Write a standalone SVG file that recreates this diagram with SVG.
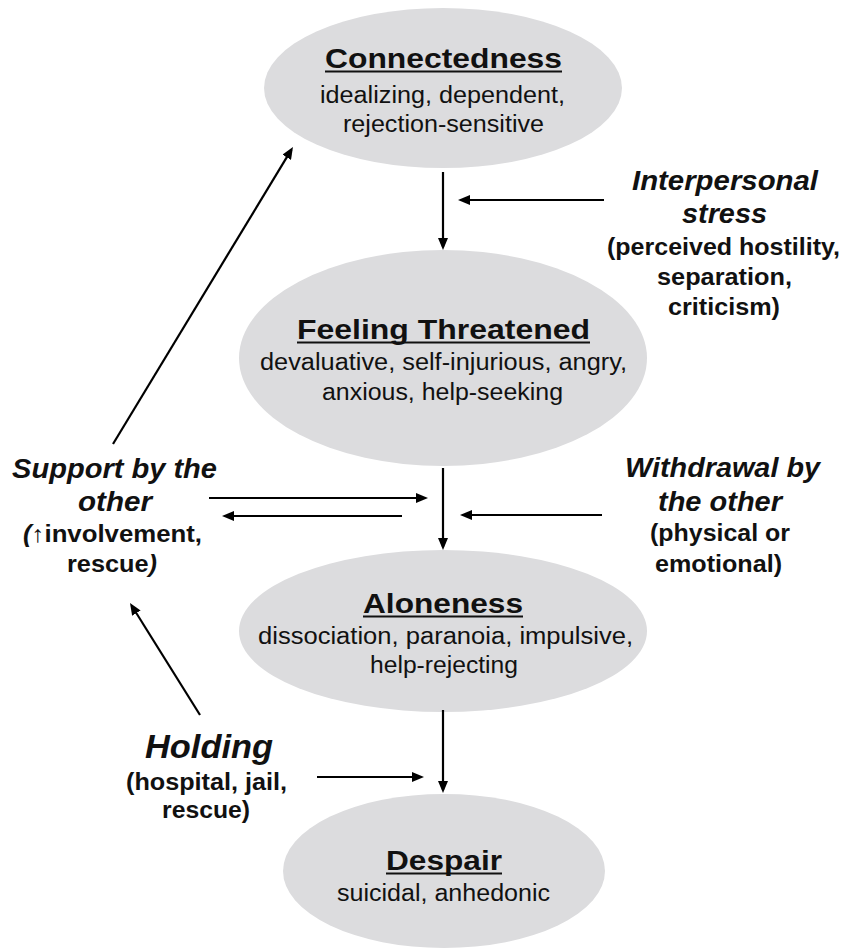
<svg xmlns="http://www.w3.org/2000/svg" width="843" height="952" viewBox="0 0 843 952">
<defs>
<marker id="ah" viewBox="0 0 12 10" refX="9" refY="5" markerWidth="12" markerHeight="10" markerUnits="userSpaceOnUse" orient="auto">
<path d="M0,0 L12,5 L0,10 z" fill="#000"/>
</marker>
<style>
.node ellipse{fill:#dcdcde;}
text{font-family:"Liberation Sans",Arial,"DejaVu Sans",sans-serif;fill:#111;}
.t{font-size:28px;font-weight:bold;}
.b{font-size:23px;}
.st{font-size:28px;font-weight:bold;font-style:italic;}
.sb{font-size:23px;font-weight:bold;}
.ul{stroke:#111;stroke-width:1.8;}
.conn line{stroke:#000;stroke-width:2.2;marker-end:url(#ah);}
</style>
</defs>
<rect width="843" height="952" fill="#fff"/>
<g id="connectedness" class="node">
<ellipse cx="443" cy="88" rx="179" ry="80"/>
<text class="t" x="325" y="68" textLength="237" lengthAdjust="spacingAndGlyphs">Connectedness</text>
<line class="ul" x1="325" y1="71.5" x2="562" y2="71.5"/>
<text class="b" x="320" y="103" textLength="245" lengthAdjust="spacingAndGlyphs">idealizing, dependent,</text>
<text class="b" x="343" y="132" textLength="201" lengthAdjust="spacingAndGlyphs">rejection-sensitive</text>
</g>
<g id="feeling-threatened" class="node">
<ellipse cx="443" cy="358" rx="204" ry="108"/>
<text class="t" x="297" y="339" textLength="293" lengthAdjust="spacingAndGlyphs">Feeling Threatened</text>
<line class="ul" x1="297" y1="342.5" x2="590" y2="342.5"/>
<text class="b" x="260" y="370" textLength="367" lengthAdjust="spacingAndGlyphs">devaluative, self-injurious, angry,</text>
<text class="b" x="322" y="400" textLength="241" lengthAdjust="spacingAndGlyphs">anxious, help-seeking</text>
</g>
<g id="aloneness" class="node">
<ellipse cx="443" cy="631" rx="204" ry="81"/>
<text class="t" x="363" y="613" textLength="160" lengthAdjust="spacingAndGlyphs">Aloneness</text>
<line class="ul" x1="363" y1="616.5" x2="523" y2="616.5"/>
<text class="b" x="258" y="644" textLength="375" lengthAdjust="spacingAndGlyphs">dissociation, paranoia, impulsive,</text>
<text class="b" x="370" y="673" textLength="148" lengthAdjust="spacingAndGlyphs">help-rejecting</text>
</g>
<g id="despair" class="node">
<ellipse cx="444" cy="871" rx="161" ry="77"/>
<text class="t" x="386" y="870" textLength="116" lengthAdjust="spacingAndGlyphs">Despair</text>
<line class="ul" x1="386" y1="873.5" x2="502" y2="873.5"/>
<text class="b" x="337" y="901" textLength="213" lengthAdjust="spacingAndGlyphs">suicidal, anhedonic</text>
</g>
<g id="interpersonal-stress">
<text class="st" x="632" y="190" textLength="186" lengthAdjust="spacingAndGlyphs">Interpersonal</text>
<text class="st" x="682" y="223" textLength="85" lengthAdjust="spacingAndGlyphs">stress</text>
<text class="sb" x="607" y="255" textLength="233" lengthAdjust="spacingAndGlyphs">(perceived hostility,</text>
<text class="sb" x="657" y="285" textLength="135" lengthAdjust="spacingAndGlyphs">separation,</text>
<text class="sb" x="668" y="315" textLength="112" lengthAdjust="spacingAndGlyphs">criticism)</text>
</g>
<g id="withdrawal">
<text class="st" x="625" y="477" textLength="195" lengthAdjust="spacingAndGlyphs">Withdrawal by</text>
<text class="st" x="658" y="511" textLength="124" lengthAdjust="spacingAndGlyphs">the other</text>
<text class="sb" x="650" y="541" textLength="140" lengthAdjust="spacingAndGlyphs">(physical or</text>
<text class="sb" x="655" y="572" textLength="127" lengthAdjust="spacingAndGlyphs">emotional)</text>
</g>
<g id="support">
<text class="st" x="12" y="478" textLength="205" lengthAdjust="spacingAndGlyphs">Support by the</text>
<text class="st" x="78" y="511" textLength="74" lengthAdjust="spacingAndGlyphs">other</text>
<text class="sb" x="23" y="542" textLength="179" lengthAdjust="spacingAndGlyphs"><tspan font-style="italic">(</tspan><tspan font-weight="normal">↑</tspan>involvement,</text>
<text class="sb" x="67" y="572" textLength="90" lengthAdjust="spacingAndGlyphs">rescue<tspan font-style="italic">)</tspan></text>
</g>
<g id="holding">
<text class="st" x="145" y="758" textLength="128" lengthAdjust="spacingAndGlyphs" style="font-size:33px">Holding</text>
<text class="sb" x="126" y="790" textLength="161" lengthAdjust="spacingAndGlyphs">(hospital, jail,</text>
<text class="sb" x="162" y="818" textLength="88" lengthAdjust="spacingAndGlyphs">rescue)</text>
</g>
<g id="connectors" class="conn">
<line x1="443" y1="172" x2="443" y2="247"/>
<line x1="443" y1="468" x2="443" y2="547"/>
<line x1="443" y1="710" x2="443" y2="790"/>
<line x1="604" y1="200" x2="461" y2="200"/>
<line x1="602" y1="515" x2="463" y2="515"/>
<line x1="209" y1="498" x2="425" y2="498"/>
<line x1="402" y1="516" x2="225" y2="516"/>
<line x1="317" y1="777" x2="421" y2="777"/>
<line x1="113" y1="444" x2="291.4" y2="149.6"/>
<line x1="200" y1="715" x2="131.6" y2="605.5"/>
</g>
</svg>
